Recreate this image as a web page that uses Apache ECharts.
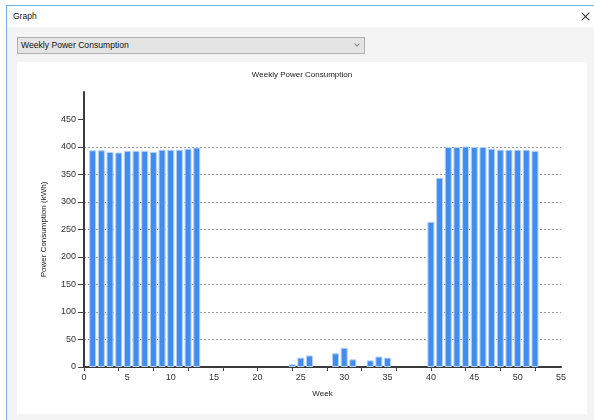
<!DOCTYPE html>
<html>
<head>
<meta charset="utf-8">
<title>Graph</title>
<script src="https://cdn.jsdelivr.net/npm/echarts@6/dist/echarts.min.js"></script>
<style>
    html, body {
        margin: 0;
        padding: 0;
        width: 594px;
        height: 420px;
        overflow: hidden;
        background: #fff;
        font-family: "Liberation Sans", Arial, sans-serif;
    }
    .window {
        position: absolute;
        left: 6px;
        top: 5px;
        width: 600px;
        height: 420px;
        border-left: 1px solid #6cb8ea;
        border-top: 1px solid #6cb8ea;
        background: #f4f4f4;
    }
    .title-bar {
        position: absolute;
        left: 0;
        top: 0;
        width: 100%;
        height: 21px;
        background: #fff;
    }
    .title-text {
        position: absolute;
        left: 6px;
        top: 5px;
        font-size: 8.5px;
        color: #111;
    }
    .close-btn {
        position: absolute;
        left: 573px;
        top: 4px;
        width: 12px;
        height: 12px;
    }
    .close-btn::before, .close-btn::after {
        content: '';
        position: absolute;
        left: 0;
        top: 5.5px;
        width: 11px;
        height: 1px;
        background: #333;
        transform: rotate(45deg);
    }
    .close-btn::after {
        transform: rotate(-45deg);
    }
    .combo {
        position: absolute;
        left: 10px;
        top: 31px;
        width: 346px;
        height: 15px;
        background: #e4e4e4;
        border: 1px solid #b0b0b0;
    }
    .combo-text {
        position: absolute;
        left: 3px;
        top: 2px;
        font-size: 8.6px;
        color: #111;
    }
    .combo-arrow {
        position: absolute;
        left: 337px;
        top: 4px;
        width: 3px;
        height: 3px;
        border-right: 1px solid #888;
        border-bottom: 1px solid #888;
        transform: rotate(45deg);
    }
    #chart {
        position: absolute;
        left: 17px;
        top: 62px;
        width: 570px;
        height: 352px;
        background: #fff;
    }
</style>
</head>
<body>
<div class="window">
    <div class="title-bar">
        <div class="title-text">Graph</div>
        <div class="close-btn"></div>
    </div>
    <div class="combo">
        <div class="combo-text">Weekly Power Consumption</div>
        <div class="combo-arrow"></div>
    </div>
</div>
<div id="chart"></div>

<script>
// weekly consumption, weeks 1..52 (kWh)
const powerKWh = [
    394, 394, 391, 390, 393, 393, 393, 391, 395, 395,
    395, 397, 399, 0, 0, 0, 0, 0, 0, 0,
    0, 0, 0, 5, 17, 21, 0, 0, 25, 35,
    14, 0, 12, 19, 17, 0, 0, 0, 0, 264,
    344, 400, 400, 401, 400, 400, 397, 395, 395, 395,
    395, 393
];

const yTickValues = [0, 50, 100, 150, 200, 250, 300, 350, 400, 450];
const xTickValues = [0, 4, 8, 12, 16, 20, 24, 28, 32, 36, 40, 44, 48, 52];

const chartTitle = 'Weekly Power Consumption';
const xAxisName = 'Week';
const yAxisName = 'Power Consumption (kWh)';

const fontFamily = 'Liberation Sans';

const chart = echarts.init(document.getElementById('chart'), null, { renderer: 'canvas' });

// empty weeks draw nothing (no border sliver on the axis)
const barData = powerKWh
    .map((v, i) => [i + 1, v])
    .filter(d => d[1] > 0);

chart.setOption({
    animation: false,
    title: {
        text: chartTitle,
        left: 'center',
        top: 4,
        padding: 5,
        textStyle: {
            fontFamily: fontFamily,
            fontSize: 8,
            fontWeight: 'normal',
            color: '#222'
        }
    },
    grid: {
        left: 67,
        right: 26,
        top: 30,
        bottom: 47,
        containLabel: false
    },
    xAxis: {
        type: 'value',
        min: 0,
        max: 55,
        interval: 5,
        name: xAxisName,
        nameLocation: 'middle',
        nameGap: 23,
        nameTextStyle: { fontFamily: fontFamily, fontSize: 8, color: '#222' },
        axisLine: { show: true, onZero: false, lineStyle: { color: '#3a3a3a', width: 2 } },
        axisTick: {
            show: true,
            length: 4,
            customValues: xTickValues,
            lineStyle: { color: '#444' }
        },
        axisLabel: { fontFamily: fontFamily, fontSize: 9, color: '#333', margin: 6 },
        splitLine: { show: false }
    },
    yAxis: {
        type: 'value',
        min: 0,
        max: 500,
        interval: 50,
        name: yAxisName,
        nameLocation: 'middle',
        nameGap: 36,
        nameTextStyle: { fontFamily: fontFamily, fontSize: 8, color: '#222' },
        axisLine: { show: true, lineStyle: { color: '#3a3a3a', width: 2 } },
        axisTick: {
            show: true,
            length: 6,
            customValues: yTickValues,
            lineStyle: { color: '#444' }
        },
        axisLabel: {
            fontFamily: fontFamily,
            fontSize: 9,
            color: '#333',
            margin: 8,
            customValues: yTickValues
        },
        splitLine: {
            show: true,
            showMinLine: false,
            showMaxLine: false,
            lineStyle: { color: '#9a9a9a', type: [2, 2], width: 1 }
        }
    },
    series: [{
        type: 'bar',
        data: barData,
        barWidth: 7,
        itemStyle: {
            color: '#418CF0',
            borderColor: '#b5d1f7',
            borderWidth: 1
        }
    }]
});
</script>
</body>
</html>
